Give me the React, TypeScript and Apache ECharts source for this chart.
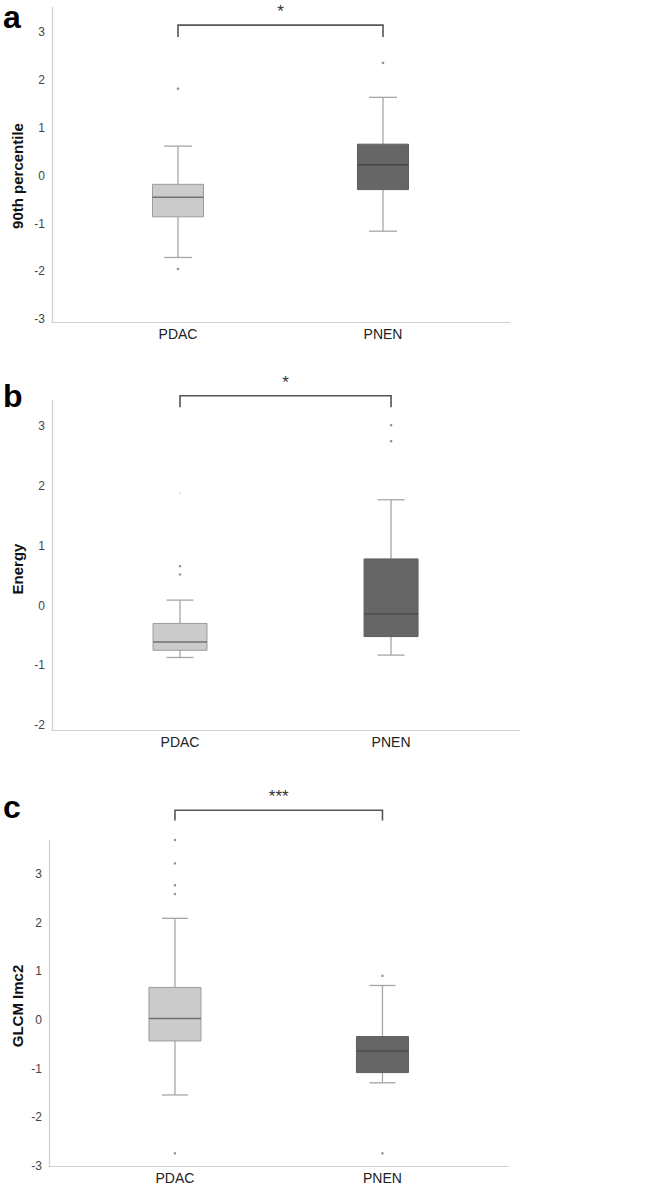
import React, { useEffect, useRef } from "react";
import * as echarts from "echarts";

// ---- data ----
const categories = ["PDAC", "PNEN"];
const panelLetters = ["a", "b", "c"];
const yTitles = ["90th percentile", "Energy", "GLCM Imc2"];
const significance = ["*", "*", "***"];

const ticksA = [-3, -2, -1, 0, 1, 2, 3];
const ticksB = [-2, -1, 0, 1, 2, 3];
const ticksC = [-3, -2, -1, 0, 1, 2, 3];

// [min, Q1, median, Q3, max] per category
const pctl90Box = [
  [-1.71, -0.86, -0.45, -0.18, 0.62],
  [-1.16, -0.29, 0.23, 0.66, 1.64],
];
const pctl90Outliers = [
  [0, 1.82],
  [0, -1.95],
  [1, 2.36],
];

const energyBox = [
  [-0.87, -0.75, -0.61, -0.3, 0.09],
  [-0.83, -0.52, -0.14, 0.78, 1.77],
];
const energyOutliers = [
  [0, 0.66],
  [0, 0.52],
  [1, 3.02],
  [1, 2.75],
];
const energyFaintOutliers = [[0, 1.88]];

const glcmBox = [
  [-1.54, -0.43, 0.03, 0.67, 2.09],
  [-1.29, -1.08, -0.64, -0.34, 0.71],
];
const glcmOutliers = [
  [0, 3.7],
  [0, 3.22],
  [0, 2.77],
  [0, 2.59],
  [0, -2.74],
  [1, 0.91],
  [1, -2.74],
];

// bracket heights (value units): [top, ends]
const bracketA = [3.15, 2.9];
const bracketB = [3.51, 3.32];
const bracketC = [4.31, 4.1];

// ---- styling / layout ----
const FONT = "'Liberation Sans', Arial, sans-serif";
const NARROW = "'Liberation Sans Narrow', 'Liberation Sans', Arial, sans-serif";
const fills = ["#cbcbcb", "#666666"];
const borders = ["#9c9c9c", "#5e5e5e"];
const medians = ["#707070", "#474747"];
const whiskerColor = "#a6a6a6";

const layouts = [
  { grid: { left: 52, top: 7, width: 458, height: 315 }, y: [-3.06, 3.53], x: [-0.6146, 1.6195], boxW: 51, capW: 28, titleY: 176, letterY: 16.5 },
  { grid: { left: 52, top: 400, width: 468, height: 330 }, y: [-2.084, 3.44], x: [-0.6066, 1.611], boxW: 54, capW: 27, titleY: 569, letterY: 395.5 },
  { grid: { left: 49, top: 840, width: 459, height: 326 }, y: [-3.0, 3.7], x: [-0.607, 1.605], boxW: 52, capW: 26, titleY: 1006, letterY: 807 },
];

function boxRenderer(boxW: number, capW: number) {
  return (params: any, api: any) => {
    const i = params.dataIndex;
    const x = api.value(0);
    const lo = api.coord([x, api.value(1)]);
    const q1 = api.coord([x, api.value(2)]);
    const md = api.coord([x, api.value(3)]);
    const q3 = api.coord([x, api.value(4)]);
    const hi = api.coord([x, api.value(5)]);
    const cx = lo[0];
    const hw = boxW / 2;
    const hc = capW / 2;
    const ws = { stroke: whiskerColor, lineWidth: 1.3 };
    return {
      type: "group",
      children: [
        { type: "line", shape: { x1: cx, y1: hi[1], x2: cx, y2: q3[1] }, style: ws },
        { type: "line", shape: { x1: cx, y1: q1[1], x2: cx, y2: lo[1] }, style: ws },
        { type: "line", shape: { x1: cx - hc, y1: hi[1], x2: cx + hc, y2: hi[1] }, style: ws },
        { type: "line", shape: { x1: cx - hc, y1: lo[1], x2: cx + hc, y2: lo[1] }, style: ws },
        {
          type: "rect",
          shape: { x: cx - hw, y: q3[1], width: boxW, height: q1[1] - q3[1] },
          style: { fill: fills[i], stroke: borders[i], lineWidth: 1 },
        },
        {
          type: "line",
          shape: { x1: cx - hw, y1: md[1], x2: cx + hw, y2: md[1] },
          style: { stroke: medians[i], lineWidth: 1.4 },
        },
      ],
    };
  };
}

export default function App() {
  const ref = useRef<HTMLDivElement>(null);

  useEffect(() => {
    if (!ref.current) return;
    const chart = echarts.init(ref.current, null, { renderer: "svg" });

    const boxes = [pctl90Box, energyBox, glcmBox];
    const outliers = [pctl90Outliers, energyOutliers, glcmOutliers];
    const ticks = [ticksA, ticksB, ticksC];
    const brackets = [bracketA, bracketB, bracketC];

    const grids = layouts.map((l) => ({ ...l.grid, containLabel: false, outerBoundsMode: "none" }));
    const xAxes = layouts.map((l, k) => ({
      type: "value",
      gridIndex: k,
      min: l.x[0],
      max: l.x[1],
      splitLine: { show: false },
      axisTick: { show: false },
      axisLine: { show: true, onZero: false, lineStyle: { color: "#cfcfcf", width: 1.2 } },
      axisLabel: {
        customValues: [0, 1],
        formatter: (v: number) => categories[Math.round(v)] ?? "",
        fontSize: 14,
        fontFamily: NARROW,
        color: "#222",
        margin: 5,
      },
    }));
    const yAxes = layouts.map((l, k) => ({
      type: "value",
      gridIndex: k,
      min: l.y[0],
      max: l.y[1],
      splitLine: { show: false },
      axisTick: { show: false },
      axisLine: { show: true, onZero: false, lineStyle: { color: "#cfcfcf", width: 1.2 } },
      axisLabel: {
        customValues: ticks[k],
        fontSize: 12,
        fontFamily: NARROW,
        color: "#444",
        margin: 7,
      },
    }));

    const series: any[] = [];
    layouts.forEach((l, k) => {
      series.push({
        type: "custom",
        xAxisIndex: k,
        yAxisIndex: k,
        renderItem: boxRenderer(l.boxW, l.capW),
        encode: { x: 0, y: [1, 2, 3, 4, 5] },
        data: boxes[k].map((b, i) => [i, ...b]),
        clip: false,
      });
      series.push({
        type: "scatter",
        xAxisIndex: k,
        yAxisIndex: k,
        symbol: "circle",
        symbolSize: 2.6,
        itemStyle: { color: "#7a7a7a" },
        data: outliers[k],
      });
    });
    series.push({
      type: "scatter",
      xAxisIndex: 1,
      yAxisIndex: 1,
      symbol: "circle",
      symbolSize: 2.4,
      itemStyle: { color: "#e2e2e2" },
      data: energyFaintOutliers,
    });

    chart.setOption({
      animation: false,
      backgroundColor: "#ffffff",
      grid: grids,
      xAxis: xAxes,
      yAxis: yAxes,
      series,
    });

    const graphics: any[] = [];
    layouts.forEach((l, k) => {
      const [top, end] = brackets[k];
      const pA = chart.convertToPixel({ gridIndex: k } as any, [0, end]) as number[];
      const pB = chart.convertToPixel({ gridIndex: k } as any, [1, end]) as number[];
      const pT = chart.convertToPixel({ gridIndex: k } as any, [0, top]) as number[];
      graphics.push({
        type: "polyline",
        shape: {
          points: [
            [pA[0], pA[1]],
            [pA[0], pT[1]],
            [pB[0], pT[1]],
            [pB[0], pB[1]],
          ],
        },
        style: { stroke: "#555", lineWidth: 1.6, fill: null },
      });
      graphics.push({
        type: "text",
        x: (pA[0] + pB[0]) / 2,
        y: pT[1] - 13.5,
        style: {
          text: significance[k],
          font: `17px ${FONT}`,
          fill: "#333",
          textAlign: "center",
          textVerticalAlign: "middle",
        },
      });
      graphics.push({
        type: "text",
        x: 3,
        y: l.letterY,
        style: {
          text: panelLetters[k],
          font: `bold 32px ${FONT}`,
          lineHeight: 26,
          fill: "#000",
          textAlign: "left",
          textVerticalAlign: "middle",
        },
      });
      graphics.push({
        type: "text",
        x: 17,
        y: l.titleY,
        rotation: Math.PI / 2,
        style: {
          text: yTitles[k],
          font: `bold 15px ${FONT}`,
          fill: "#111",
          textAlign: "center",
          textVerticalAlign: "middle",
        },
      });
    });
    chart.setOption({ graphic: graphics });

    return () => chart.dispose();
  }, []);

  return (
    <div
      ref={ref}
      style={{ position: "fixed", left: 0, top: 0, width: 645, height: 1186, background: "#fff" }}
    />
  );
}
